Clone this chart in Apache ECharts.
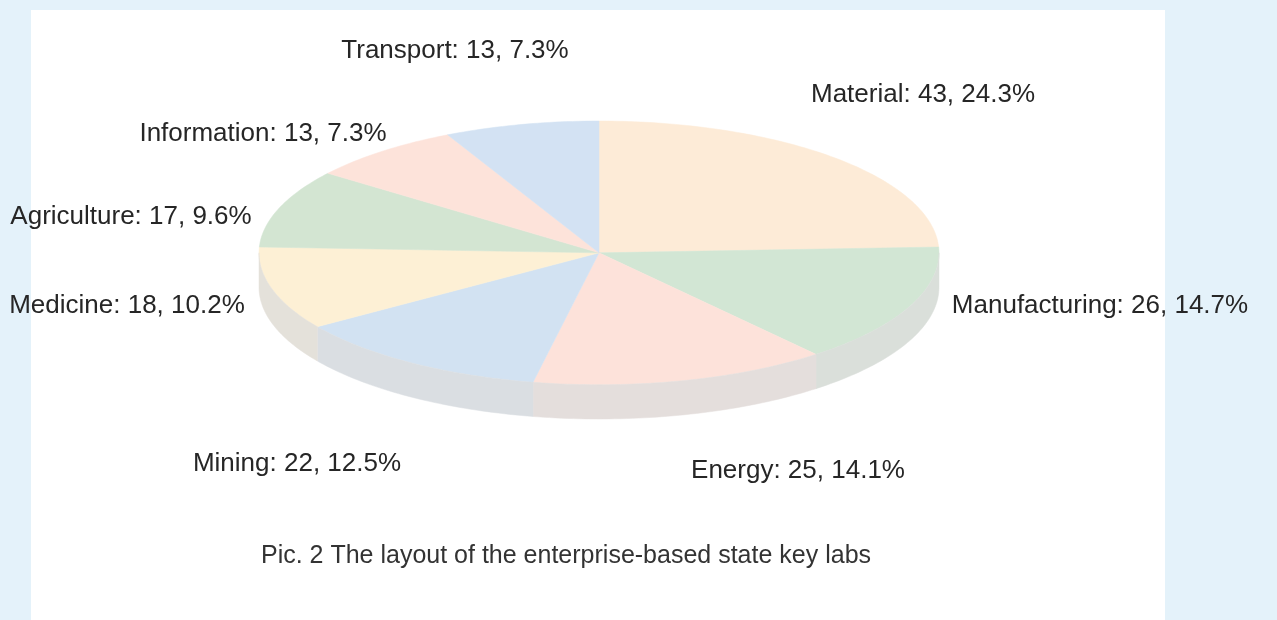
<!DOCTYPE html>
<html>
<head>
<meta charset="utf-8">
<script src="https://cdn.jsdelivr.net/npm/echarts@6/dist/echarts.min.js"></script>
<style>
  html, body { margin: 0; padding: 0; background: #e4f2fa; }
  #chart { width: 1277px; height: 620px; }
</style>
</head>
<body>
<div id="chart"></div>
<script>
var names = ['Material', 'Manufacturing', 'Energy', 'Mining', 'Medicine', 'Agriculture', 'Information', 'Transport']
var values = [43, 26, 25, 22, 18, 17, 13, 13]
var percents = ['24.3%', '14.7%', '14.1%', '12.5%', '10.2%', '9.6%', '7.3%', '7.3%']
var caption = 'Pic. 2 The layout of the enterprise-based state key labs'

// label placement (pixels, centre of text)
var labelPos = [[923, 95], [1100, 306], [798, 471], [297, 464], [127, 306], [131, 217], [263, 134], [455, 51]]
var colors = ['#fdebd7', '#d2e6d4', '#fde2da', '#d2e2f2', '#fdf0d5', '#d3e5d2', '#fde3da', '#d3e2f3']
var depth = 0.26

var total = values.reduce(function (a, b) { return a + b }, 0)
var angles = []
var acc = 0
values.forEach(function (v) {
  angles.push([acc / total * 360, (acc + v) / total * 360])
  acc += v
})

function mix(c1, c2, t) {
  var a = echarts.color.parse(c1)
  var b = echarts.color.parse(c2)
  return 'rgb(' + [0, 1, 2].map(function (k) { return Math.round(a[k] * (1 - t) + b[k] * t) }).join(',') + ')'
}

function pt(deg, dy) {
  var r = deg * Math.PI / 180
  return [Math.sin(r), Math.cos(r) - (dy || 0)]
}

function renderItem(params, api) {
  var i = params.dataIndex
  var a0 = angles[i][0]
  var a1 = angles[i][1]
  var children = []
  // top face
  var pts = [api.coord([0, 0])]
  for (var d = a0; d < a1; d += 1) pts.push(api.coord(pt(d)))
  pts.push(api.coord(pt(a1)))
  children.push({
    type: 'polygon',
    shape: { points: pts },
    style: { fill: colors[i], stroke: colors[i], lineWidth: 0.5 }
  })
  // side wall (front half only)
  var s = Math.max(a0, 90)
  var e = Math.min(a1, 270)
  if (e > s) {
    var top = []
    var bot = []
    for (var k = s; k < e; k += 1) {
      top.push(api.coord(pt(k)))
      bot.push(api.coord(pt(k, depth)))
    }
    top.push(api.coord(pt(e)))
    bot.push(api.coord(pt(e, depth)))
    var wall = mix(colors[i], '#dcdcdc', 0.75)
    children.push({
      type: 'polygon',
      shape: { points: top.concat(bot.reverse()) },
      style: { fill: wall, stroke: wall, lineWidth: 0.5 }
    })
  }
  return { type: 'group', children: children }
}

var labels = names.map(function (n, i) {
  return {
    type: 'text',
    x: labelPos[i][0],
    y: labelPos[i][1],
    style: {
      text: n + ': ' + values[i] + ', ' + percents[i],
      fill: '#262626',
      font: '26px "Liberation Sans", Arial, sans-serif',
      align: 'center',
      verticalAlign: 'middle'
    }
  }
})

var myChart = echarts.init(document.getElementById('chart'))
var option = {
  backgroundColor: '#e4f2fa',
  animation: false,
  graphic: [
    { type: 'rect', z: -10, shape: { x: 31, y: 10, width: 1134, height: 620 }, style: { fill: '#ffffff' } },
    {
      type: 'text',
      x: 566,
      y: 556,
      style: {
        text: caption,
        fill: '#333333',
        font: '25px "Liberation Sans", Arial, sans-serif',
        align: 'center',
        verticalAlign: 'middle'
      }
    }
  ].concat(labels),
  grid: { left: 259, top: 121, width: 680, height: 298 },
  xAxis: { type: 'value', min: -1, max: 1, show: false },
  yAxis: { type: 'value', min: -1 - depth, max: 1, show: false },
  series: [{
    type: 'custom',
    renderItem: renderItem,
    data: values.map(function (v, i) { return [i, v] }),
    encode: { x: -1, y: -1 }
  }]
}
myChart.setOption(option)
</script>
</body>
</html>
